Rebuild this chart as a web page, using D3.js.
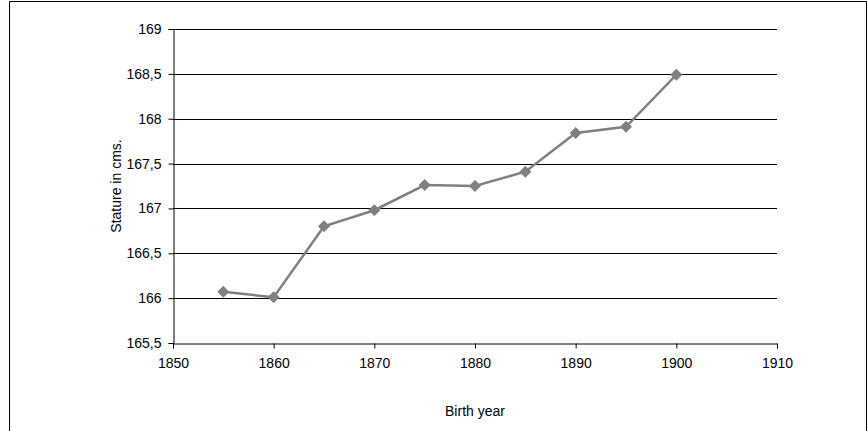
<!DOCTYPE html>
<html><head><meta charset="utf-8">
<script src="https://cdn.jsdelivr.net/npm/d3@7"></script>
<style>body{margin:0;background:#fff}svg text{font-family:"Liberation Sans",Arial,sans-serif !important;font-size:14px !important;fill:#000}</style>
</head><body><svg id="chart" width="867" height="431"></svg>
<script>
const years = [1855, 1860, 1865, 1870, 1875, 1880, 1885, 1890, 1895, 1900];
const stature = [166.07, 166.01, 166.8, 166.98, 167.26, 167.25, 167.41, 167.84, 167.91, 168.49];
const xTicks = [1850, 1860, 1870, 1880, 1890, 1900, 1910];
const yTicks = [165.5, 166, 166.5, 167, 167.5, 168, 168.5, 169];

const svg = d3.select('#chart');
svg.append('path').attr('d', 'M9.5,440V1.5H866.5V440').attr('fill', 'none').attr('stroke', '#000');

const x = d3.scaleLinear().domain([1850, 1910]).range([173, 777]);
const y = d3.scaleLinear().domain([165.5, 169]).range([343, 29]);
const fmt = d => String(d).replace('.', ',');

// gridlines
svg.append('g').selectAll('line').data(yTicks.slice(1)).join('line')
  .attr('x1', x(1850)).attr('x2', x(1910))
  .attr('y1', d => Math.round(y(d)) + 0.5).attr('y2', d => Math.round(y(d)) + 0.5)
  .attr('stroke', '#000');

const yAxis = svg.append('g').attr('transform', `translate(${x(1850) + 0.5},0)`)
  .call(d3.axisLeft(y).tickValues(yTicks).tickFormat(fmt).tickSize(5).tickPadding(7));
const xAxis = svg.append('g').attr('transform', `translate(0,${y(165.5) + 0.5})`)
  .call(d3.axisBottom(x).tickValues(xTicks).tickFormat(d3.format('d')).tickSize(5).tickPadding(10));
[yAxis, xAxis].forEach(a => {
  a.selectAll('line,path').attr('stroke', '#000');
});

svg.append('text').attr('x', x(1880)).attr('y', 416).attr('text-anchor', 'middle').text('Birth year');
svg.append('text').attr('transform', `translate(121,${y(167.25)}) rotate(-90)`)
  .attr('text-anchor', 'middle').text('Stature in cms.');

const pts = years.map((d, i) => [d, stature[i]]);
svg.append('path').datum(pts)
  .attr('d', d3.line().x(d => x(d[0])).y(d => y(d[1])))
  .attr('fill', 'none').attr('stroke', '#808080').attr('stroke-width', 2.5);
svg.append('g').selectAll('path').data(pts).join('path')
  .attr('transform', d => `translate(${x(d[0])},${y(d[1])})`)
  .attr('d', 'M0,-6L6,0L0,6L-6,0Z').attr('fill', '#808080');
</script></body></html>
